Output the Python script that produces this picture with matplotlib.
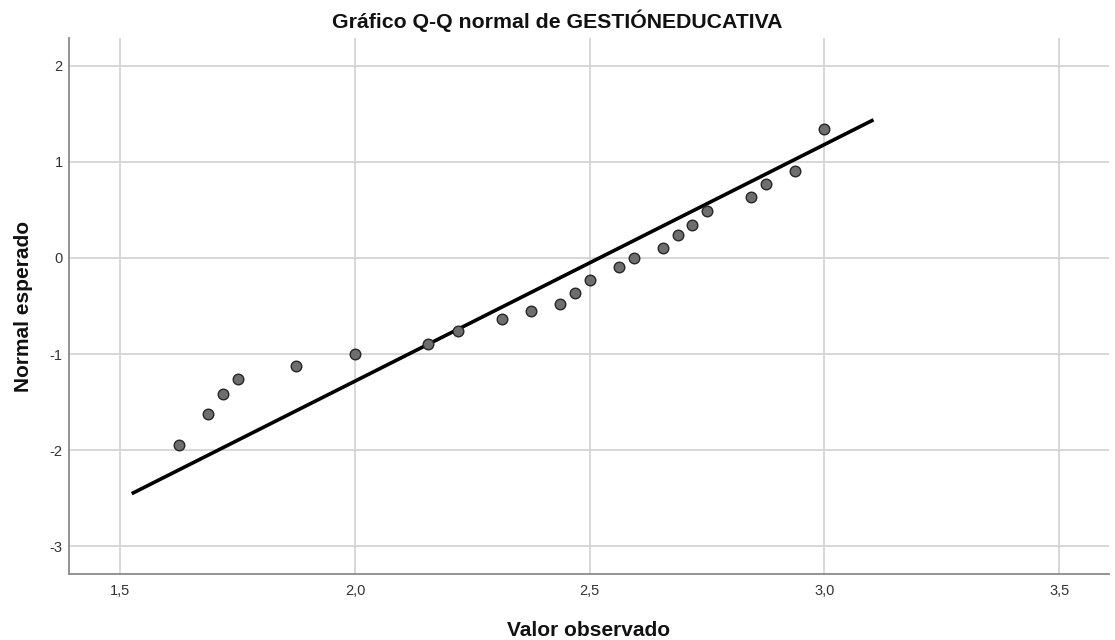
import matplotlib
matplotlib.use("Agg")
import matplotlib.pyplot as plt
from matplotlib.ticker import FuncFormatter

plt.rcParams['font.family'] = ['Liberation Sans', 'DejaVu Sans']

# Data
observed = [1.625, 1.6875, 1.71875, 1.75, 1.875, 2.0, 2.15625, 2.21875, 2.3125,
            2.375, 2.4375, 2.46875, 2.5, 2.5625, 2.59375, 2.65625, 2.6875,
            2.71875, 2.75, 2.84375, 2.875, 2.9375, 3.0]
expected = [-1.95, -1.625, -1.42, -1.26, -1.125, -1.0, -0.90, -0.76, -0.635,
            -0.55, -0.48, -0.365, -0.23, -0.095, 0.0, 0.10, 0.24, 0.345, 0.49,
            0.635, 0.77, 0.905, 1.34]
line_x = [1.528, 3.101]
line_y = [-2.445, 1.43]
xticks = [1.5, 2.0, 2.5, 3.0, 3.5]
yticks = [-3, -2, -1, 0, 1, 2]

fig = plt.figure(figsize=(11.15, 6.4), dpi=100)
ax = fig.add_axes([0.0619, 0.1031, 0.9327, 0.8375])

ax.set_xlim(1.391, 3.606)
ax.set_ylim(-3.29, 2.29)
ax.set_xticks(xticks)
ax.set_yticks(yticks)
ax.xaxis.set_major_formatter(FuncFormatter(lambda v, p: f"{v:.1f}".replace('.', ',')))
ax.yaxis.set_major_formatter(FuncFormatter(lambda v, p: f"{int(v)}"))
ax.grid(True, color='#d4d4d4', linewidth=1.3)
ax.set_axisbelow(True)
for s in ['top', 'right']:
    ax.spines[s].set_visible(False)
for s in ['left', 'bottom']:
    ax.spines[s].set_color('#8a8a8a')
    ax.spines[s].set_linewidth(1.3)
ax.tick_params(length=0, labelsize=10.5, colors='#333333')
ax.tick_params(axis='x', pad=7)
ax.tick_params(axis='y', pad=4.5)

ax.plot(line_x, line_y, color='black', linewidth=2.6, zorder=3)
ax.scatter(observed, expected, s=58, facecolor='#6e6e6e', edgecolor='#262626',
           linewidth=1.0, zorder=4)

fig.text(0.5, 1 - 28 / 640, "Gráfico Q-Q normal de GESTIÓNEDUCATIVA", fontsize=15.3,
         fontweight='bold', color='#111111', ha='center', va='baseline')
ax.set_xlabel("Valor observado", fontsize=15, fontweight='bold', color='#111111', labelpad=17)
ax.set_ylabel("Normal esperado", fontsize=15, fontweight='bold', color='#111111', labelpad=12)

fig.savefig("out.png", dpi=100)
